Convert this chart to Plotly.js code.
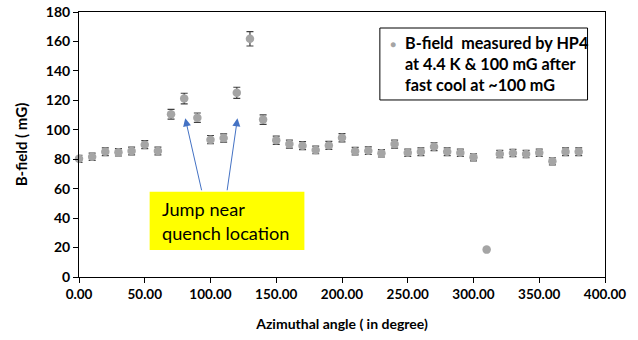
<!DOCTYPE html>
<html>
<head>
<meta charset="utf-8">
<script src="https://cdn.plot.ly/plotly-3.0.1.min.js"></script>
<style>html,body{margin:0;padding:0;background:#fff;}#chart{width:638px;height:340px;}</style>
</head>
<body>
<div id="chart"></div>
<script>
const angles = [0,10,20,30,40,50,60,70,80,90,100,110,120,130,140,150,160,170,180,190,200,210,220,230,240,250,260,270,280,290,300,310,320,330,340,350,360,370,380];
const bField = [80.3,81.7,85.1,84.7,85.6,89.9,85.6,110.5,121.2,108.2,93.3,94.4,125.1,161.8,106.9,92.9,90.3,89.2,86.3,89.4,94.6,85.5,85.8,84.0,90.3,84.4,85.1,88.5,85.1,84.4,81.3,18.6,83.5,84.2,83.5,84.4,78.6,85.1,85.1];
const bError = [2.4,2.5,2.6,2.5,2.6,2.7,2.6,3.3,3.6,3.2,2.8,2.8,3.8,4.9,3.2,2.8,2.7,2.7,2.6,2.7,2.8,2.6,2.6,2.5,2.7,2.5,2.6,2.7,2.6,2.5,2.4,0,2.5,2.5,2.5,2.5,2.4,2.6,2.6];
const seriesLines = ["B-field&nbsp; measured by HP4", "at 4.4 K &amp; 100 mG after", "fast cool at ~100 mG"];
const xTitle = "Azimuthal angle ( in degree)";
const yTitle = "B-field ( mG)";
const noteLines = ["Jump near", "quench location"];

const FONT = "Lato, 'Open Sans', sans-serif";
const MARKER_COLOR = '#a5a5a5';

const trace = {
  x: angles, y: bField, type: 'scatter', mode: 'markers', name: seriesLines.join(' '),
  marker: {color: MARKER_COLOR, size: 8.5},
  error_y: {type: 'data', array: bError, visible: true, color: '#404040', thickness: 1.2, width: 3.5},
  cliponaxis: false, showlegend: false
};

const layout = {
  width: 638, height: 340,
  margin: {l: 78.5, r: 32.5, t: 12, b: 63},
  paper_bgcolor: '#fff', plot_bgcolor: '#fff',
  font: {family: FONT, color: '#000', size: 13},
  showlegend: false,
  xaxis: {
    range: [0, 400], dtick: 50, tick0: 0, tickformat: '.2f',
    showgrid: false, zeroline: false,
    showline: true, linecolor: '#000', linewidth: 1, mirror: true,
    ticks: 'outside', ticklen: 5, tickcolor: '#000',
    tickfont: {family: FONT, size: 13.5, weight: 'bold'},
    title: {text: xTitle, font: {family: FONT, size: 14, weight: 'bold'}, standoff: 17}
  },
  yaxis: {
    range: [0, 180], dtick: 20, tick0: 0,
    showgrid: false, zeroline: false,
    showline: true, linecolor: '#000', linewidth: 1, mirror: true,
    ticks: 'outside', ticklen: 5, tickcolor: '#000',
    tickfont: {family: FONT, size: 14, weight: 'bold'},
    title: {text: yTitle, font: {family: FONT, size: 15, weight: 'bold'}, standoff: 14}
  },
  shapes: [
    {type: 'rect', xref: 'paper', yref: 'paper', x0: 0.1343, x1: 0.4285, y0: 0.1019, y1: 0.322,
     fillcolor: '#ffff00', line: {width: 0}, layer: 'above'},
    {type: 'rect', xref: 'paper', yref: 'paper', x0: 0.572, x1: 0.9668, y0: 0.668, y1: 0.9396,
     fillcolor: '#ffffff', line: {width: 1, color: '#000'}, layer: 'above'}
  ],
  annotations: [
    {xref: 'paper', yref: 'paper', x: 0.1546, y: 0.211, xanchor: 'left', yanchor: 'middle',
     text: noteLines.join('<br>'), showarrow: false, align: 'left',
     font: {family: FONT, size: 18.2, color: '#000'}},
    {xref: 'x', yref: 'y', axref: 'x', ayref: 'y', x: 80.8, y: 107.8, ax: 93.5, ay: 57.9,
     text: '', showarrow: true, arrowhead: 2, arrowsize: 1.6, arrowwidth: 1, arrowcolor: '#4472c4'},
    {xref: 'x', yref: 'y', axref: 'x', ayref: 'y', x: 120.5, y: 107.8, ax: 112.5, ay: 57.9,
     text: '', showarrow: true, arrowhead: 2, arrowsize: 1.6, arrowwidth: 1, arrowcolor: '#4472c4'},
    {xref: 'paper', yref: 'paper', x: 0.6158, y: 0.8038, xanchor: 'left', yanchor: 'middle',
     text: seriesLines.join('<br>'), showarrow: false, align: 'left',
     font: {family: FONT, size: 16.2, weight: 'bold', color: '#000'}},
    {xref: 'paper', yref: 'paper', x: 0.5968, y: 0.879, xanchor: 'center', yanchor: 'middle',
     text: '●', showarrow: false, font: {size: 10, color: MARKER_COLOR}}
  ]
};

Plotly.newPlot('chart', [trace], layout, {displayModeBar: false, staticPlot: true});
</script>
</body>
</html>
